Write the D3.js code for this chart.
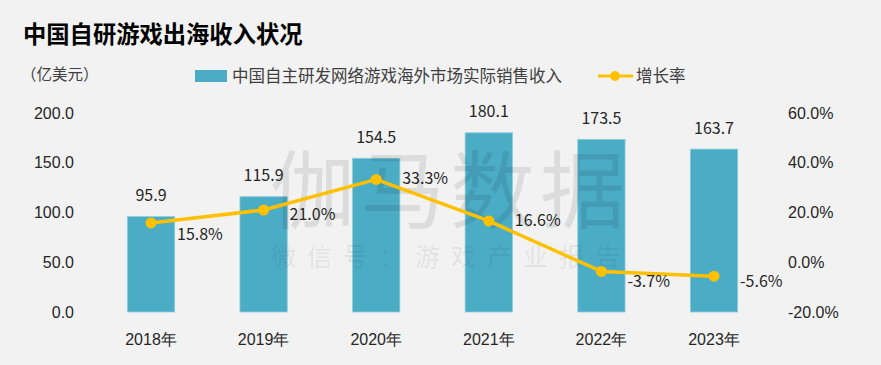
<!DOCTYPE html>
<html><head><meta charset="utf-8">
<script src="https://cdn.jsdelivr.net/npm/d3@7/dist/d3.min.js"></script>
<style>
html,body{margin:0;padding:0;background:#f2f2f2;}
svg{display:block;font-family:"Noto Sans CJK SC","Noto Sans",sans-serif;}
</style></head>
<body><svg id="c" width="881" height="365"></svg>
<script>
const categories = ["2018年","2019年","2020年","2021年","2022年","2023年"];
const revenue = [95.9, 115.9, 154.5, 180.1, 173.5, 163.7];
const growth = [15.8, 21.0, 33.3, 16.6, -3.7, -5.6];
const leftTicks = [0, 50, 100, 150, 200];
const rightTicks = [-20, 0, 20, 40, 60];
const growthLabelDy = [17, 10, 5, 5, 16, 11];

const svg = d3.select("#c");
const W = 881, H = 365;
svg.append("rect").attr("width", W).attr("height", H).attr("fill", "#f2f2f2");

const x = d3.scaleBand().domain(categories).range([94.7, 770.3]).paddingInner(0.58).paddingOuter(0.29);
const y = d3.scaleLinear().domain([0, 200]).range([312, 113]);
const y2 = d3.scaleLinear().domain([-20, 60]).range([312, 113]);

const textColor = "#262626";
const fs = 16;

// title
svg.append("text").attr("x", 23).attr("y", 43).attr("font-size", 23.3).attr("font-weight", "bold")
  .attr("fill", "#000").text("中国自研游戏出海收入状况");
svg.append("text").attr("x", 21).attr("y", 80).attr("font-size", 15.5).attr("fill", "#404040").text("（亿美元）");

// legend
svg.append("rect").attr("x", 195).attr("y", 70).attr("width", 32).attr("height", 12).attr("fill", "#4BACC6");
svg.append("text").attr("x", 232).attr("y", 82).attr("font-size", 16.5).attr("fill", "#404040")
  .text("中国自主研发网络游戏海外市场实际销售收入");
svg.append("line").attr("x1", 598).attr("x2", 633).attr("y1", 76).attr("y2", 76)
  .attr("stroke", "#FFC000").attr("stroke-width", 3);
svg.append("circle").attr("cx", 615).attr("cy", 76).attr("r", 5).attr("fill", "#FFC000");
svg.append("text").attr("x", 636).attr("y", 82).attr("font-size", 16.5).attr("fill", "#404040").text("增长率");

// left axis
const la = svg.append("g").attr("transform", "translate(74,0)")
  .call(d3.axisLeft(y).tickValues(leftTicks).tickFormat(d3.format(".1f")).tickSize(0).tickPadding(0));
la.select(".domain").remove();
la.selectAll("text").attr("font-size", fs).attr("fill", textColor).attr("font-family", null);

// right axis
const ra = svg.append("g").attr("transform", "translate(788,0)")
  .call(d3.axisRight(y2).tickValues(rightTicks).tickFormat(d => d.toFixed(1) + "%").tickSize(0).tickPadding(0));
ra.select(".domain").remove();
ra.selectAll("text").attr("font-size", fs).attr("fill", textColor).attr("font-family", null);

// bottom axis
const ba = svg.append("g").attr("transform", "translate(0,345)")
  .call(d3.axisBottom(x).tickSize(0).tickPadding(0));
ba.select(".domain").remove();
ba.selectAll("text").attr("font-size", fs).attr("fill", textColor).attr("font-family", null).attr("dy", null).attr("y", 0);

// bars
svg.append("g").selectAll("rect").data(revenue).join("rect")
  .attr("x", (d, i) => x(categories[i]))
  .attr("y", d => y(d))
  .attr("width", x.bandwidth())
  .attr("height", d => y(0) - y(d))
  .attr("fill", "#4BACC6")
  .attr("stroke", "#8fcbdb").attr("stroke-width", 0.8);

// bar labels
svg.append("g").selectAll("text").data(revenue).join("text")
  .attr("x", (d, i) => x(categories[i]) + x.bandwidth() / 2)
  .attr("y", d => y(d) - 15.5)
  .attr("text-anchor", "middle").attr("font-size", fs).attr("fill", textColor)
  .text(d => d.toFixed(1));

// watermark
const wm = svg.append("g").attr("pointer-events", "none");
wm.append("text").attr("x", 450).attr("y", 222).attr("text-anchor", "middle")
  .attr("font-size", 85).attr("letter-spacing", 5).attr("fill", "#000").attr("fill-opacity", 0.09)
  .text("伽马数据");
wm.append("text").attr("x", 451).attr("y", 266).attr("text-anchor", "middle")
  .attr("font-size", 25).attr("letter-spacing", 11).attr("fill", "#000").attr("fill-opacity", 0.08)
  .text("微信号：游戏产业报告");

// line
const cx = i => x(categories[i]) + x.bandwidth() / 2;
const line = d3.line().x((d, i) => cx(i)).y(d => y2(d));
svg.append("path").datum(growth).attr("d", line).attr("fill", "none")
  .attr("stroke", "#FFC000").attr("stroke-width", 3.5).attr("stroke-linejoin", "round");
svg.append("g").selectAll("circle").data(growth).join("circle")
  .attr("cx", (d, i) => cx(i)).attr("cy", d => y2(d)).attr("r", 5.5).attr("fill", "#FFC000");
svg.append("g").selectAll("text").data(growth).join("text")
  .attr("x", (d, i) => cx(i) + 26)
  .attr("y", (d, i) => y2(d) + growthLabelDy[i])
  .attr("font-size", fs).attr("fill", textColor)
  .text(d => d.toFixed(1) + "%");
</script></body></html>
